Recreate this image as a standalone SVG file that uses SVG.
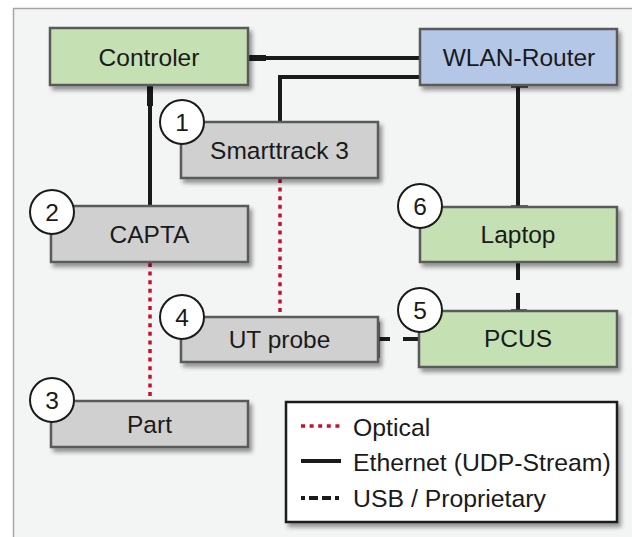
<svg xmlns="http://www.w3.org/2000/svg" width="632" height="537" viewBox="0 0 632 537">
<defs>
<filter id="sh" x="-10%" y="-20%" width="130%" height="150%">
<feDropShadow dx="3" dy="4" stdDeviation="2" flood-color="#000" flood-opacity="0.4"/>
</filter>
<style>
.box{stroke:#5a5a5a;stroke-width:2.5}
.green{fill:#c5e0b3}
.blue{fill:#b4c7e7}
.gray{fill:#d0d0d0}
.lbl{font-family:"Liberation Sans",Arial,sans-serif;font-size:24.5px;fill:#1a1a1a;text-anchor:middle}
.num{font-family:"Liberation Sans",Arial,sans-serif;font-size:24.5px;fill:#1a1a1a;text-anchor:middle}
.circ{fill:#fff;stroke:#1a1a1a;stroke-width:2}
.eth{fill:none;stroke:#1a1a1a;stroke-width:4}
.opt{fill:none;stroke:#c8102e;stroke-width:3.5;stroke-dasharray:4 4.6}
.tick{stroke:#333;stroke-width:3.5}
.leg{font-family:"Liberation Sans",Arial,sans-serif;font-size:24.8px;fill:#1a1a1a}
</style>
</defs>
<rect x="0" y="0" width="632" height="537" fill="#fff"/>
<rect x="13.5" y="8.5" width="640" height="540" fill="#f3f4f4" stroke="#a6a6a6" stroke-width="1.5"/>

<g id="connectors">
<line class="eth" x1="249" y1="58" x2="420" y2="58"/>
<line x1="249" y1="58" x2="266" y2="58" stroke="#1a1a1a" stroke-width="6"/>
<polyline class="eth" points="280,122 280,77 420,77"/>
<line class="eth" x1="150" y1="86" x2="150" y2="206"/>
<line x1="150" y1="86" x2="150" y2="106" stroke="#1a1a1a" stroke-width="6"/>
<line class="eth" x1="518" y1="86" x2="518" y2="207"/>
<line class="tick" x1="511" y1="86" x2="528" y2="86"/>
<line class="tick" x1="511" y1="207" x2="528" y2="207"/>
<line x1="518" y1="263" x2="518" y2="280" stroke="#1a1a1a" stroke-width="4"/>
<line x1="518" y1="293" x2="518" y2="311" stroke="#1a1a1a" stroke-width="4"/>
<line class="tick" x1="511" y1="311" x2="527" y2="311"/>
<line x1="378" y1="339" x2="390" y2="339" stroke="#1a1a1a" stroke-width="4"/>
<line x1="403" y1="339" x2="420" y2="339" stroke="#1a1a1a" stroke-width="4"/>
<line class="tick" x1="378" y1="322" x2="378" y2="358"/>
<line class="tick" x1="420" y1="335" x2="420" y2="358"/>
<line class="opt" x1="280" y1="179" x2="280" y2="317"/>
<line class="opt" x1="150" y1="263" x2="150" y2="401"/>
</g>

<g id="controler">
<rect class="box green" x="50" y="28" width="198" height="57" filter="url(#sh)"/>
<text class="lbl" x="149" y="66">Controler</text>
</g>

<g id="wlan-router">
<rect class="box blue" x="420" y="29" width="197" height="56" filter="url(#sh)"/>
<text class="lbl" x="519" y="66">WLAN-Router</text>
</g>

<g id="smarttrack">
<rect class="box gray" x="181" y="122" width="197" height="56" filter="url(#sh)"/>
<text class="lbl" x="279.5" y="159">Smarttrack 3</text>
<circle class="circ" cx="182" cy="122" r="22"/>
<text class="num" x="182" y="131">1</text>
</g>

<g id="capta">
<rect class="box gray" x="51" y="206" width="197" height="56" filter="url(#sh)"/>
<text class="lbl" x="149.5" y="243">CAPTA</text>
<circle class="circ" cx="52" cy="212" r="22"/>
<text class="num" x="52" y="221">2</text>
</g>

<g id="laptop">
<rect class="box green" x="420" y="207" width="197" height="55" filter="url(#sh)"/>
<text class="lbl" x="518" y="243">Laptop</text>
<circle class="circ" cx="420" cy="206" r="22"/>
<text class="num" x="420" y="215">6</text>
</g>

<g id="ut-probe">
<rect class="box gray" x="181" y="317" width="197" height="45" filter="url(#sh)"/>
<text class="lbl" x="279.5" y="348">UT probe</text>
<circle class="circ" cx="182" cy="317" r="22"/>
<text class="num" x="182" y="326">4</text>
</g>

<g id="pcus">
<rect class="box green" x="419" y="311" width="198" height="56" filter="url(#sh)"/>
<text class="lbl" x="518" y="347">PCUS</text>
<circle class="circ" cx="420" cy="310" r="22"/>
<text class="num" x="420" y="319">5</text>
</g>

<g id="part">
<rect class="box gray" x="51" y="401" width="197" height="46" filter="url(#sh)"/>
<text class="lbl" x="149.5" y="433">Part</text>
<circle class="circ" cx="52" cy="400" r="22"/>
<text class="num" x="52" y="409">3</text>
</g>

<g id="legend">
<rect x="286" y="402" width="331" height="120" fill="#fff" stroke="#1a1a1a" stroke-width="2.5" filter="url(#sh)"/>
<line class="opt" x1="301" y1="426" x2="341" y2="426"/>
<text class="leg" x="353" y="436">Optical</text>
<line x1="301" y1="461" x2="341" y2="461" stroke="#1a1a1a" stroke-width="4"/>
<text class="leg" x="353" y="471">Ethernet (UDP-Stream)</text>
<line x1="301" y1="498" x2="341" y2="498" stroke="#1a1a1a" stroke-width="4" stroke-dasharray="4 4 9 4 9"/>
<text class="leg" x="353" y="507">USB / Proprietary</text>
</g>
</svg>
